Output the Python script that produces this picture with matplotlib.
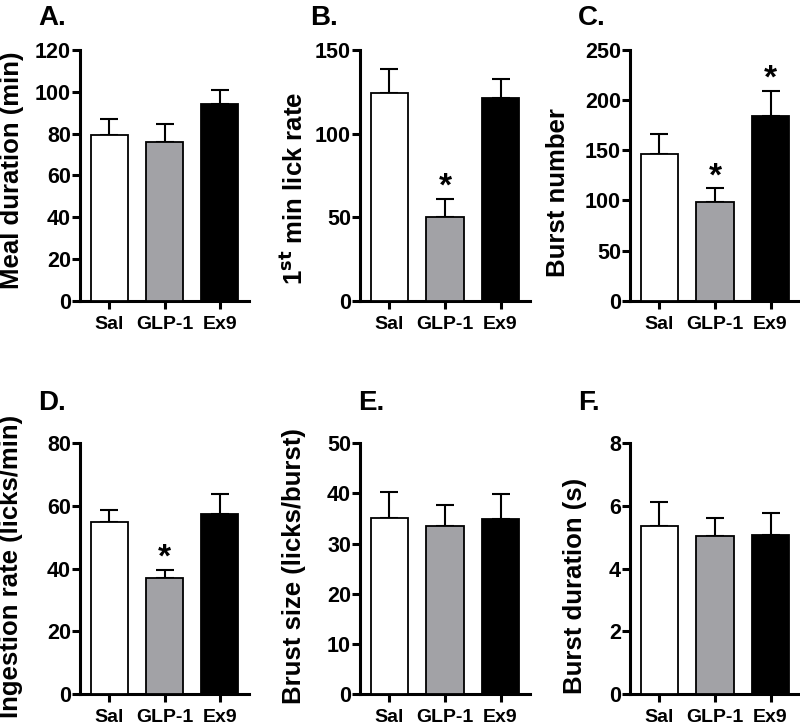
import matplotlib.pyplot as plt

plt.rcParams['font.family'] = ['Liberation Sans', 'DejaVu Sans']
plt.rcParams['font.weight'] = 'bold'

groups = ['Sal', 'GLP-1', 'Ex9']
bar_colors = ['white', '#a2a2a6', 'black']

# panel values (mean, sem)
meal_duration = [79.1, 75.9, 94.3]
meal_duration_err = [7.7, 8.5, 6.5]
lick_rate = [124.5, 50.3, 121.5]
lick_rate_err = [14.0, 10.7, 11.0]
burst_number = [146.3, 98.7, 183.8]
burst_number_err = [19.9, 13.7, 25.6]
ingestion_rate = [55.0, 36.9, 57.3]
ingestion_rate_err = [3.8, 2.8, 6.4]
burst_size = [35.2, 33.6, 34.9]
burst_size_err = [5.1, 4.1, 5.0]
burst_duration = [5.35, 5.04, 5.07]
burst_duration_err = [0.79, 0.59, 0.72]

panels = [
    # letter, ylabel, values, errors, ymax, tick step, stars
    ('A.', 'Meal duration (min)', meal_duration, meal_duration_err, 120, 20, []),
    ('B.', '1$^{\\mathbf{st}}$ min lick rate', lick_rate, lick_rate_err, 150, 50, [1]),
    ('C.', 'Burst number', burst_number, burst_number_err, 250, 50, [1, 2]),
    ('D.', 'Ingestion rate (licks/min)', ingestion_rate, ingestion_rate_err, 80, 20, [1]),
    ('E.', 'Brust size (licks/burst)', burst_size, burst_size_err, 50, 10, []),
    ('F.', 'Burst duration (s)', burst_duration, burst_duration_err, 8, 2, []),
]

W, H = 800, 728
fig = plt.figure(figsize=(8, 7.28), dpi=100)

# axes boxes in pixels: left, right, top, bottom
boxes = [
    (80, 249, 50, 300.7), (360, 530, 50, 300.7), (630, 800, 50, 300.7),
    (80, 249, 443.3, 694), (360, 530, 443.3, 694), (630, 800, 443.3, 694),
]
label_x = [-0.33, -0.306, -0.353, -0.337, -0.32, -0.253]
label_y = [0.52, 0.45, 0.43, 0.51, 0.51, 0.43]
letter_pos = [(38, 25), (310, 25), (578, 25), (38, 410), (358, 410), (578, 410)]

for i, (letter, ylabel, vals, errs, ymax, step, stars) in enumerate(panels):
    l, r, t, b = boxes[i]
    ax = fig.add_axes([l / W, 1 - b / H, (r - l) / W, (b - t) / H])
    x = range(len(groups))
    ax.bar(x, vals, width=0.67, color=bar_colors, edgecolor='black', linewidth=1.3, zorder=3)
    ax.errorbar(x, vals, yerr=[[0] * 3, errs], fmt='none', ecolor='black',
                elinewidth=1.5, capsize=6.5, capthick=1.5, zorder=2)
    for s in stars:
        ax.annotate('*', (s, vals[s] + errs[s]), xytext=(0, -3), textcoords='offset points',
                    ha='center', va='bottom', fontsize=24, fontweight='bold')
    ax.set_xlim(-0.53, 2.53)
    ax.set_ylim(0, ymax)
    ax.set_yticks(range(0, ymax + 1, step))
    ax.set_xticks(list(x))
    ax.set_xticklabels(groups, fontsize=14, fontweight='bold')
    for lbl in ax.get_yticklabels():
        lbl.set_fontsize(15.5)
        lbl.set_fontweight('bold')
    ax.spines['top'].set_visible(False)
    ax.spines['right'].set_visible(False)
    ax.spines['left'].set_linewidth(2.2)
    ax.spines['bottom'].set_linewidth(2.2)
    ax.tick_params(axis='y', length=6, width=2.2, pad=0.5)
    ax.tick_params(axis='x', length=6, width=2.2, pad=5)
    ax.set_ylabel(ylabel, fontsize=18.5, fontweight='bold')
    ax.yaxis.set_label_coords(label_x[i], label_y[i])
    fig.text(letter_pos[i][0] / W, 1 - letter_pos[i][1] / H, letter,
             fontsize=20, fontweight='bold', ha='left', va='baseline')

fig.savefig('out.png', dpi=100)
